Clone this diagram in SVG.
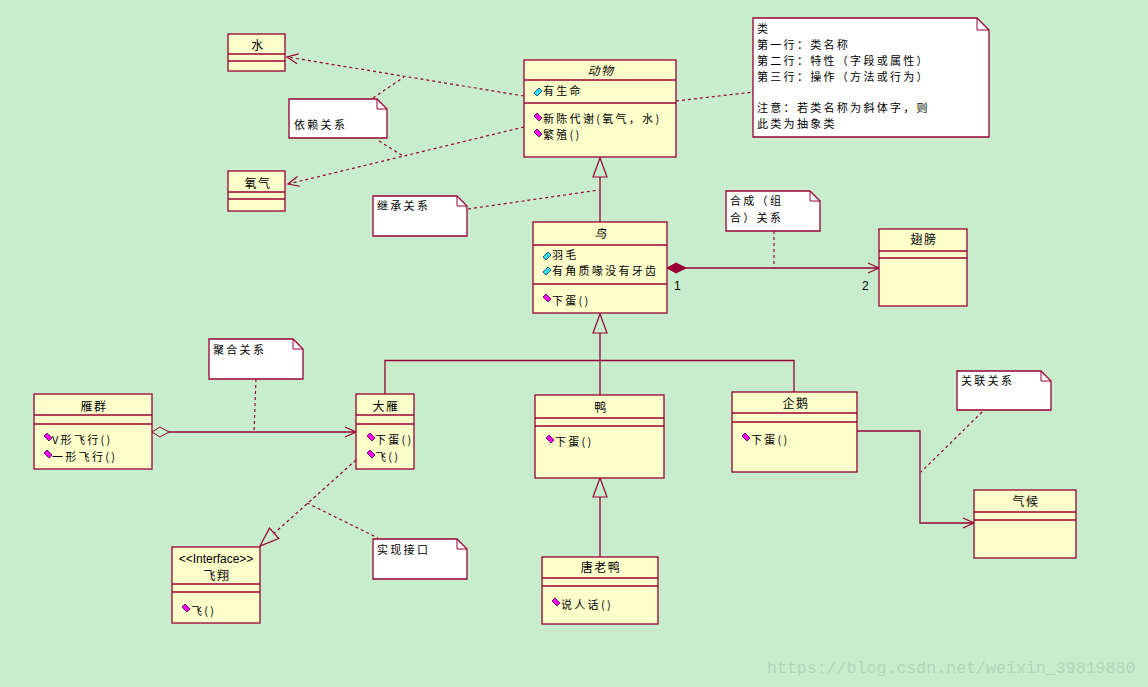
<svg xmlns="http://www.w3.org/2000/svg" xmlns:xlink="http://www.w3.org/1999/xlink" width="1148" height="687" viewBox="0 0 1148 687">
<style>
  .bg{fill:#C7EDCC}
  .cls{fill:#FFFFCC;stroke:#990033;stroke-width:1.3}
  .sep{stroke:#990033;stroke-width:1.3;fill:none}
  .note{fill:#FFFFFF;stroke:#990033;stroke-width:1.3}
  .fold{fill:none;stroke:#990033;stroke-width:1}
  .t{font-family:"Noto Sans CJK SC","Liberation Sans",sans-serif;font-size:11px;letter-spacing:2.3px;fill:#000}
  .c{text-anchor:middle;font-size:12px;letter-spacing:1.5px}
  .it{font-style:italic}
  .num{font-family:"Liberation Sans",sans-serif;font-size:12px;fill:#000}
  .solid{stroke:#990033;stroke-width:1.3;fill:none}
  .dash{stroke:#990033;stroke-width:1.2;fill:none;stroke-dasharray:3 3}
  .wm{font-family:"Liberation Mono","DejaVu Sans Mono",monospace;font-size:16.6px;fill:#B3D5B7}
</style>
<defs>
  <marker id="open" markerUnits="userSpaceOnUse" markerWidth="14" markerHeight="14" viewBox="0 0 14 14" refX="12" refY="6" orient="auto">
    <path d="M1,1 L12,6 L1,11" fill="none" stroke="#990033" stroke-width="1.2"/>
  </marker>
  <marker id="tri" markerUnits="userSpaceOnUse" markerWidth="22" markerHeight="18" viewBox="0 0 22 18" refX="20" refY="8" orient="auto">
    <path d="M1,1 L20,8 L1,15 Z" fill="#C7EDCC" stroke="#990033" stroke-width="1.2"/>
  </marker>
  <marker id="fdia" markerUnits="userSpaceOnUse" markerWidth="22" markerHeight="14" viewBox="0 0 22 14" refX="1" refY="6" orient="auto">
    <path d="M1,6 L10,1 L20,6 L10,11 Z" fill="#990033" stroke="#990033" stroke-width="1"/>
  </marker>
  <marker id="hdia" markerUnits="userSpaceOnUse" markerWidth="22" markerHeight="14" viewBox="0 0 22 14" refX="1" refY="6" orient="auto">
    <path d="M1,6 L9,1 L18,6 L9,11 Z" fill="#C7EDCC" stroke="#990033" stroke-width="1"/>
  </marker>
  <path id="op" d="M-4,-1 L-1,-4 L4,1 L1,4 Z" fill="#FF00FF" stroke="#330033" stroke-width="0.8"/>
  <path id="at" d="M-4,1 L1,-4 L4,-1 L-1,4 Z" fill="#33DDEE" stroke="#003366" stroke-width="0.8"/>
</defs>
<rect class="bg" x="0" y="0" width="1148" height="687"/>

<g id="connectors">
  <!-- dependency -->
  <line class="dash" x1="524" y1="96" x2="287" y2="57" marker-end="url(#open)"/>
  <line class="dash" x1="524" y1="127" x2="288" y2="184" marker-end="url(#open)"/>
  <line class="dash" x1="373" y1="98" x2="404" y2="77"/>
  <line class="dash" x1="379" y1="141" x2="403" y2="156"/>
  <!-- note link for class note -->
  <line class="dash" x1="676" y1="101" x2="753" y2="92"/>
  <!-- inheritance bird -> animal -->
  <line class="solid" x1="600" y1="222" x2="600" y2="158" marker-end="url(#tri)"/>
  <line class="dash" x1="468" y1="209" x2="599" y2="190"/>
  <!-- composition -->
  <line class="solid" x1="667" y1="268" x2="879" y2="268" marker-start="url(#fdia)" marker-end="url(#open)"/>
  <line class="dash" x1="774" y1="231" x2="774" y2="268"/>
  <!-- inheritance of birds -->
  <polyline class="solid" points="385,394 385,360.5 794,360.5 794,392"/>
  <line class="solid" x1="600" y1="395" x2="600" y2="314" marker-end="url(#tri)"/>
  <!-- aggregation -->
  <line class="solid" x1="152" y1="432" x2="356" y2="432" marker-start="url(#hdia)" marker-end="url(#open)"/>
  <line class="dash" x1="256" y1="379" x2="254" y2="432"/>
  <!-- duck inheritance -->
  <line class="solid" x1="600" y1="557" x2="600" y2="478" marker-end="url(#tri)"/>
  <!-- realization -->
  <line class="dash" x1="356" y1="460" x2="260" y2="546" marker-end="url(#tri)"/>
  <line class="dash" x1="307" y1="503" x2="378" y2="538"/>
  <!-- association -->
  <polyline class="solid" points="857,431 920,431 920,523 974,523" marker-end="url(#open)"/>
  <line class="dash" x1="982" y1="412" x2="921" y2="472"/>
  <!-- multiplicities -->
  <text class="num" x="674" y="290">1</text>
  <text class="num" x="862" y="290">2</text>
</g>

<g id="water">
  <rect class="cls" x="228" y="34" width="57" height="37"/>
  <line class="sep" x1="228" y1="54" x2="285" y2="54"/>
  <line class="sep" x1="228" y1="61" x2="285" y2="61"/>
  <text class="t c" x="258" y="50">水</text>
</g>

<g id="oxygen">
  <rect class="cls" x="228" y="171" width="57" height="40"/>
  <line class="sep" x1="228" y1="192" x2="285" y2="192"/>
  <line class="sep" x1="228" y1="199" x2="285" y2="199"/>
  <text class="t c" x="258" y="188">氧气</text>
</g>

<g id="note-dependency">
  <path class="note" d="M289,99 H377 L387,109 V138 H289 Z"/>
  <path class="fold" d="M377,99 V109 H387"/>
  <text class="t" x="294" y="129">依赖关系</text>
</g>

<g id="animal">
  <rect class="cls" x="524" y="60" width="152" height="97"/>
  <line class="sep" x1="524" y1="80" x2="676" y2="80"/>
  <line class="sep" x1="524" y1="103" x2="676" y2="103"/>
  <text class="t c it" x="601" y="75">动物</text>
  <use href="#at" x="538" y="92"/>
  <text class="t" x="543" y="95">有生命</text>
  <use href="#op" x="538" y="117"/>
  <text class="t" x="543" y="123">新陈代谢(氧气，水)</text>
  <use href="#op" x="538" y="133"/>
  <text class="t" x="543" y="139">繁殖()</text>
</g>

<g id="note-class">
  <path class="note" d="M753,18 H977 L989,30 V137 H753 Z"/>
  <path class="fold" d="M977,18 V30 H989"/>
  <text class="t" x="757" y="33">类</text>
  <text class="t" x="757" y="49">第一行：类名称</text>
  <text class="t" x="757" y="65">第二行：特性（字段或属性）</text>
  <text class="t" x="757" y="81">第三行：操作（方法或行为）</text>
  <text class="t" x="757" y="112">注意：若类名称为斜体字，则</text>
  <text class="t" x="757" y="128">此类为抽象类</text>
</g>

<g id="note-inherit">
  <path class="note" d="M373,196 H457 L467,206 V236 H373 Z"/>
  <path class="fold" d="M457,196 V206 H467"/>
  <text class="t" x="377" y="210">继承关系</text>
</g>

<g id="bird">
  <rect class="cls" x="533" y="222" width="134" height="91"/>
  <line class="sep" x1="533" y1="245" x2="667" y2="245"/>
  <line class="sep" x1="533" y1="284" x2="667" y2="284"/>
  <text class="t c it" x="601" y="238">鸟</text>
  <use href="#at" x="547" y="256"/>
  <text class="t" x="552" y="259">羽毛</text>
  <use href="#at" x="547" y="271"/>
  <text class="t" x="552" y="275">有角质喙没有牙齿</text>
  <use href="#op" x="547" y="298"/>
  <text class="t" x="552" y="305">下蛋()</text>
</g>

<g id="note-composition">
  <path class="note" d="M726,191 H810 L820,201 V231 H726 Z"/>
  <path class="fold" d="M810,191 V201 H820"/>
  <text class="t" x="730" y="205">合成（组</text>
  <text class="t" x="730" y="222">合）关系</text>
</g>

<g id="wings">
  <rect class="cls" x="879" y="229" width="88" height="77"/>
  <line class="sep" x1="879" y1="251" x2="967" y2="251"/>
  <line class="sep" x1="879" y1="258" x2="967" y2="258"/>
  <text class="t c" x="924" y="244">翅膀</text>
</g>

<g id="note-aggregation">
  <path class="note" d="M209,339 H293 L303,349 V379 H209 Z"/>
  <path class="fold" d="M293,339 V349 H303"/>
  <text class="t" x="213" y="354">聚合关系</text>
</g>

<g id="goose-flock">
  <rect class="cls" x="34" y="394" width="118" height="75"/>
  <line class="sep" x1="34" y1="415" x2="152" y2="415"/>
  <line class="sep" x1="34" y1="424" x2="152" y2="424"/>
  <text class="t c" x="94" y="411">雁群</text>
  <use href="#op" x="48" y="437"/>
  <text class="t" x="52" y="444">V形飞行()</text>
  <use href="#op" x="48" y="454"/>
  <text class="t" x="52" y="461">一形飞行()</text>
</g>

<g id="goose">
  <rect class="cls" x="356" y="394" width="58" height="75"/>
  <line class="sep" x1="356" y1="415" x2="414" y2="415"/>
  <line class="sep" x1="356" y1="424" x2="414" y2="424"/>
  <text class="t c" x="386" y="411">大雁</text>
  <use href="#op" x="371" y="437"/>
  <text class="t" x="375" y="444">下蛋()</text>
  <use href="#op" x="371" y="454"/>
  <text class="t" x="375" y="461">飞()</text>
</g>

<g id="duck">
  <rect class="cls" x="535" y="395" width="129" height="83"/>
  <line class="sep" x1="535" y1="418" x2="664" y2="418"/>
  <line class="sep" x1="535" y1="426" x2="664" y2="426"/>
  <text class="t c" x="601" y="412">鸭</text>
  <use href="#op" x="550" y="439"/>
  <text class="t" x="555" y="446">下蛋()</text>
</g>

<g id="penguin">
  <rect class="cls" x="732" y="392" width="125" height="80"/>
  <line class="sep" x1="732" y1="413" x2="857" y2="413"/>
  <line class="sep" x1="732" y1="422" x2="857" y2="422"/>
  <text class="t c" x="796" y="408">企鹅</text>
  <use href="#op" x="746" y="437"/>
  <text class="t" x="751" y="444">下蛋()</text>
</g>

<g id="note-association">
  <path class="note" d="M957,371 H1041 L1051,381 V410 H957 Z"/>
  <path class="fold" d="M1041,371 V381 H1051"/>
  <text class="t" x="961" y="385">关联关系</text>
</g>

<g id="climate">
  <rect class="cls" x="974" y="490" width="102" height="68"/>
  <line class="sep" x1="974" y1="512" x2="1076" y2="512"/>
  <line class="sep" x1="974" y1="520" x2="1076" y2="520"/>
  <text class="t c" x="1026" y="506">气候</text>
</g>

<g id="donald-duck">
  <rect class="cls" x="542" y="557" width="116" height="67"/>
  <line class="sep" x1="542" y1="578" x2="658" y2="578"/>
  <line class="sep" x1="542" y1="586" x2="658" y2="586"/>
  <text class="t c" x="601" y="572">唐老鸭</text>
  <use href="#op" x="556" y="602"/>
  <text class="t" x="561" y="609">说人话()</text>
</g>

<g id="fly-interface">
  <rect class="cls" x="172" y="547" width="88" height="76"/>
  <line class="sep" x1="172" y1="584" x2="260" y2="584"/>
  <line class="sep" x1="172" y1="592" x2="260" y2="592"/>
  <text class="num" x="216" y="563" text-anchor="middle">&lt;&lt;Interface&gt;&gt;</text>
  <text class="t c" x="217" y="580">飞翔</text>
  <use href="#op" x="186" y="608"/>
  <text class="t" x="191" y="615">飞()</text>
</g>

<g id="note-realization">
  <path class="note" d="M373,539 H457 L467,549 V579 H373 Z"/>
  <path class="fold" d="M457,539 V549 H467"/>
  <text class="t" x="377" y="554">实现接口</text>
</g>

<text class="wm" x="767" y="673">https://blog.csdn.net/weixin_39819880</text>
</svg>
